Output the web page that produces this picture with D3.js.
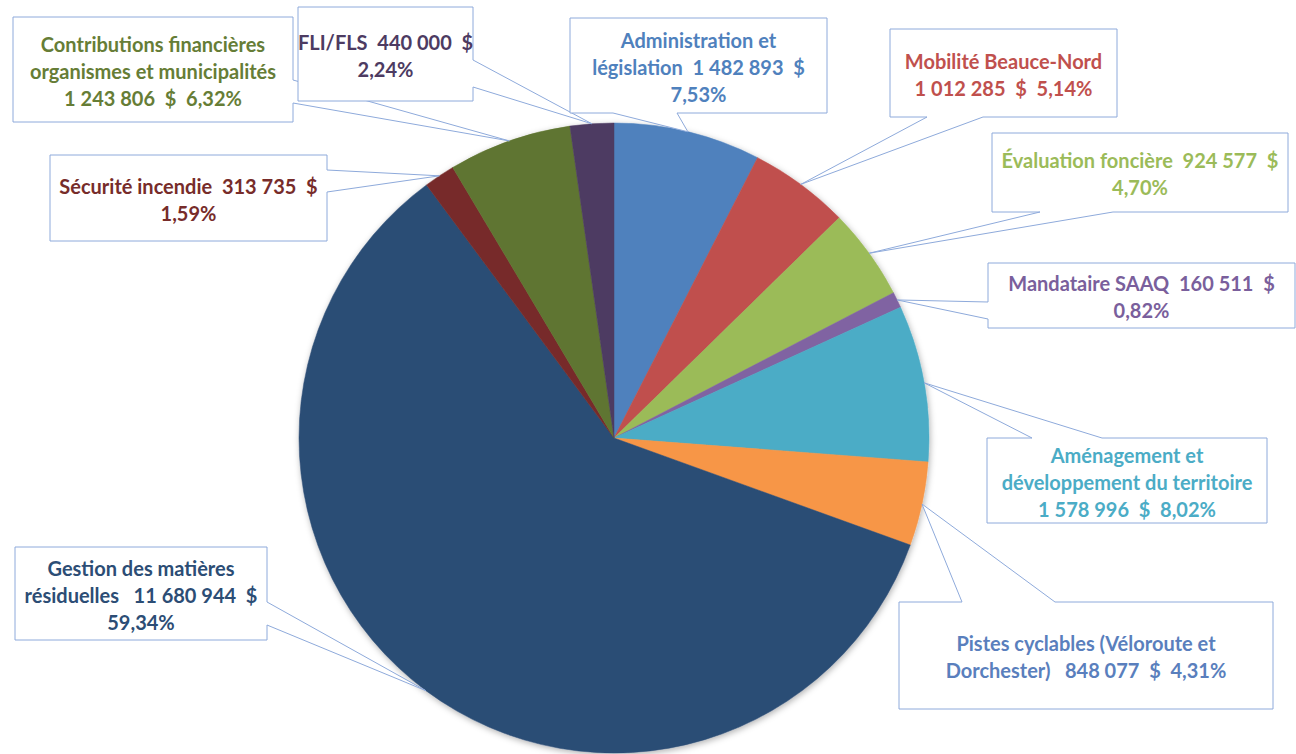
<!DOCTYPE html>
<html>
<head>
<meta charset="utf-8">
<script src="https://cdn.jsdelivr.net/npm/d3@7"></script>
<style>
  html, body { margin: 0; padding: 0; background: #ffffff; }
  svg { display: block; }
  text { white-space: pre; }
</style>
</head>
<body>
<svg id="chart" width="1296" height="754"></svg>
<script>
// ---------- DATA ----------
const categories = [
  "Administration et législation",
  "Mobilité Beauce-Nord",
  "Évaluation foncière",
  "Mandataire SAAQ",
  "Aménagement et développement du territoire",
  "Pistes cyclables (Véloroute et Dorchester)",
  "Gestion des matières résiduelles",
  "Sécurité incendie",
  "Contributions financières organismes et municipalités",
  "FLI/FLS"
];
const values = [1482893, 1012285, 924577, 160511, 1578996, 848077, 11680944, 313735, 1243806, 440000];
const percents = ["7,53%", "5,14%", "4,70%", "0,82%", "8,02%", "4,31%", "59,34%", "1,59%", "6,32%", "2,24%"];
const labelLines = [
  ["Administration et", "législation  1 482 893  $", "7,53%"],
  ["Mobilité Beauce-Nord", "1 012 285  $  5,14%"],
  ["Évaluation foncière  924 577  $", "4,70%"],
  ["Mandataire SAAQ  160 511  $", "0,82%"],
  ["Aménagement et", "développement du territoire", "1 578 996  $  8,02%"],
  ["Pistes cyclables (Véloroute et", "Dorchester)   848 077  $  4,31%"],
  ["Gestion des matières", "résiduelles   11 680 944  $", "59,34%"],
  ["Sécurité incendie  313 735  $", "1,59%"],
  ["Contributions financières", "organismes et municipalités", "1 243 806  $  6,32%"],
  ["FLI/FLS  440 000  $", "2,24%"]
];

// ---------- STYLE / LAYOUT ----------
const sliceColors = ["#4F81BD", "#C0504D", "#9BBB59", "#8064A2", "#4BACC6", "#F79646", "#2C4D75", "#772C2A", "#5F7530", "#4D3B62"];
const textColors  = ["#4F81BD", "#C0504D", "#9BBB59", "#7A5F9C", "#4BACC6", "#5A7FBD", "#2C4D75", "#772C2A", "#667D36", "#4D3B62"];
// callout boxes: [x0, y0, x1, y1], side where the pointer leaves, pointer base positions along that side
const callouts = [
  {box: [570, 18, 827, 113],  side: "bottom", a: 613, b: 677},
  {box: [890, 29, 1117, 117], side: "bottom", a: 927, b: 983},
  {box: [992, 133, 1288, 212], side: "bottom", a: 1040, b: 1113},
  {box: [988, 263, 1295, 328], side: "left", a: 302, b: 319},
  {box: [987, 438, 1267, 523], side: "top", a: 1032, b: 1102},
  {box: [899, 602, 1273, 709], side: "top", a: 962, b: 1055},
  {box: [15, 547, 267, 640],  side: "right", a: 602, b: 625},
  {box: [50, 155, 327, 241],  side: "right", a: 170, b: 192},
  {box: [13, 17, 293, 122],   side: "right", a: 80, b: 103},
  {box: [298, 7, 473, 101],   side: "right", a: 60, b: 87}
];
const drawOrder = [8, 9, 0, 1, 2, 3, 4, 5, 6, 7];
const cx = 614, cy = 438, R = 315;
const lineH = 27;
const fontSize = 20;

// ---------- DRAW ----------
const svg = d3.select("#chart");
const defs = svg.append("defs");
const f = defs.append("filter").attr("id", "shadow")
  .attr("x", "-10%").attr("y", "-10%").attr("width", "120%").attr("height", "120%");
f.append("feDropShadow").attr("dx", 1).attr("dy", 2).attr("stdDeviation", 3)
  .attr("flood-color", "#000").attr("flood-opacity", 0.3);

const pie = d3.pie().sort(null).value(d => d)(values);
const arc = d3.arc().innerRadius(0).outerRadius(R);
const edge = d3.arc().innerRadius(R).outerRadius(R);

const gPie = svg.append("g").attr("transform", `translate(${cx},${cy})`).attr("filter", "url(#shadow)");
gPie.selectAll("path").data(pie).join("path")
  .attr("d", arc)
  .attr("fill", (d, i) => sliceColors[i])
  .attr("stroke", (d, i) => sliceColors[i])
  .attr("stroke-width", 0.5);

function calloutPath(c, tip) {
  const [x0, y0, x1, y1] = c.box;
  const p = [[x0, y0]];
  if (c.side === "top") p.push([c.a, y0], tip, [c.b, y0]);
  p.push([x1, y0]);
  if (c.side === "right") p.push([x1, c.a], tip, [x1, c.b]);
  p.push([x1, y1]);
  if (c.side === "bottom") p.push([c.b, y1], tip, [c.a, y1]);
  p.push([x0, y1]);
  if (c.side === "left") p.push([x0, c.b], tip, [x0, c.a]);
  return "M" + p.map(q => q[0] + "," + q[1]).join("L") + "Z";
}

const gLab = svg.append("g");
drawOrder.forEach(i => {
  const c = callouts[i];
  const t = edge.centroid(pie[i]);
  const tip = [cx + t[0], cy + t[1]];
  const g = gLab.append("g");
  g.append("path")
    .attr("d", calloutPath(c, tip))
    .attr("fill", "#ffffff")
    .attr("stroke", "#8EAADB")
    .attr("stroke-width", 1);
  const [x0, y0, x1, y1] = c.box;
  const mx = (x0 + x1) / 2, my = (y0 + y1) / 2 + 2;
  const lines = labelLines[i];
  g.selectAll("text").data(lines).join("text")
    .attr("x", mx)
    .attr("y", (d, k) => my + (k - (lines.length - 1) / 2) * lineH + 7)
    .attr("text-anchor", "middle")
    .attr("font-family", "Lato, 'Open Sans', sans-serif")
    .attr("font-weight", "bold")
    .attr("font-size", fontSize)
    .attr("fill", textColors[i])
    .text(d => d);
});
</script>
</body>
</html>
